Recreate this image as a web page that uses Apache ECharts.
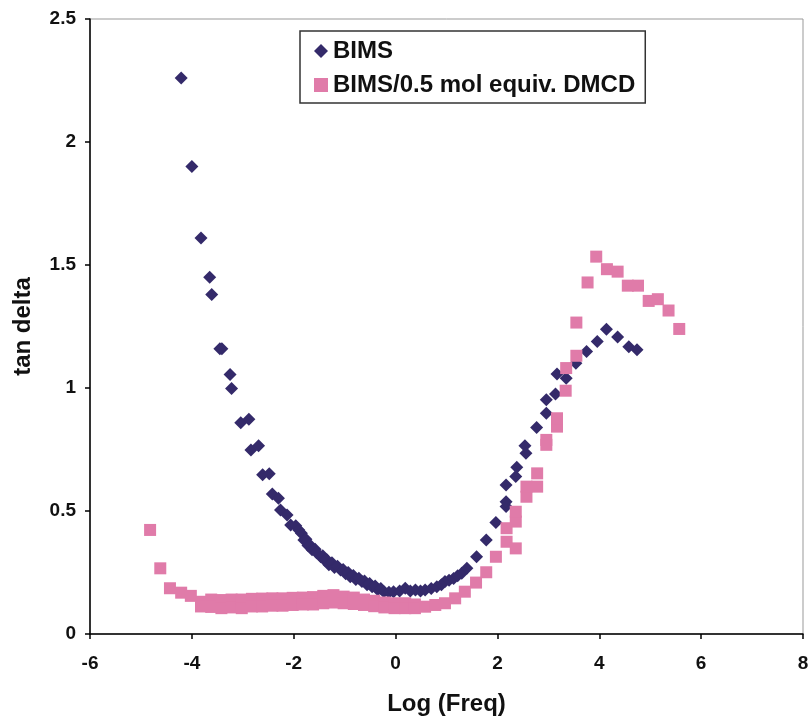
<!DOCTYPE html>
<html>
<head>
<meta charset="utf-8">
<script src="https://cdn.jsdelivr.net/npm/echarts@6/dist/echarts.min.js"></script>
<style>
  html, body { margin: 0; padding: 0; background: #fff; }
  #chart { width: 809px; height: 716px; }
</style>
</head>
<body>
<div id="chart"></div>
<script>
// BIMS: [log freq, tan delta]
const bims = [
  [-4.21, 2.26], [-4.0, 1.90], [-3.82, 1.61], [-3.65, 1.45], [-3.61, 1.38],
  [-3.45, 1.16], [-3.41, 1.16], [-3.25, 1.055], [-3.22, 0.998], [-3.04, 0.859],
  [-2.88, 0.873], [-2.84, 0.748], [-2.69, 0.765], [-2.61, 0.647], [-2.48, 0.651],
  [-2.42, 0.569], [-2.30, 0.552], [-2.26, 0.504], [-2.13, 0.484], [-2.06, 0.443],
  [-1.96, 0.44], [-1.90, 0.423], [-1.85, 0.41], [-1.80, 0.382], [-1.76, 0.385],
  [-1.72, 0.36], [-1.68, 0.362], [-1.64, 0.342], [-1.58, 0.345], [-1.55, 0.33],
  [-1.47, 0.314], [-1.43, 0.318], [-1.39, 0.30], [-1.35, 0.302], [-1.31, 0.281],
  [-1.25, 0.29], [-1.2, 0.27], [-1.14, 0.275], [-1.08, 0.26], [-1.03, 0.262],
  [-0.98, 0.245], [-0.93, 0.25], [-0.89, 0.233], [-0.83, 0.238], [-0.78, 0.222],
  [-0.72, 0.227], [-0.66, 0.213], [-0.61, 0.215], [-0.56, 0.2], [-0.51, 0.205],
  [-0.46, 0.192], [-0.40, 0.195], [-0.35, 0.18], [-0.29, 0.185], [-0.23, 0.172],
  [-0.13, 0.17], [-0.04, 0.172], [0.08, 0.175], [0.19, 0.186], [0.29, 0.175],
  [0.39, 0.179], [0.49, 0.175], [0.58, 0.179], [0.7, 0.185], [0.81, 0.192],
  [0.90, 0.2], [0.97, 0.213], [1.05, 0.218], [1.14, 0.226], [1.22, 0.237],
  [1.30, 0.247], [1.40, 0.267], [1.59, 0.314], [1.78, 0.382], [1.97, 0.453],
  [2.17, 0.518], [2.17, 0.538], [2.17, 0.606], [2.36, 0.640], [2.38, 0.678],
  [2.54, 0.765], [2.56, 0.735], [2.77, 0.839], [2.96, 0.897], [2.96, 0.952],
  [3.14, 0.976], [3.17, 1.057], [3.35, 1.040], [3.54, 1.101], [3.75, 1.148],
  [3.96, 1.189], [4.14, 1.239], [4.36, 1.207], [4.58, 1.168], [4.74, 1.155]
];

// BIMS/0.5 mol equiv. DMCD
const bimsDmcd = [
  [-4.82, 0.423], [-4.62, 0.267], [-4.43, 0.186], [-4.21, 0.168], [-4.02, 0.155],
  [-3.82, 0.131], [-3.82, 0.112], [-3.62, 0.14], [-3.62, 0.11], [-3.42, 0.138],
  [-3.42, 0.105], [-3.22, 0.14], [-3.22, 0.108], [-3.02, 0.14], [-3.02, 0.105],
  [-2.82, 0.143], [-2.82, 0.112], [-2.62, 0.144], [-2.62, 0.112], [-2.42, 0.145],
  [-2.42, 0.115], [-2.22, 0.145], [-2.22, 0.115], [-2.02, 0.147], [-2.02, 0.118],
  [-1.82, 0.148], [-1.82, 0.12], [-1.62, 0.15], [-1.62, 0.12], [-1.42, 0.155],
  [-1.42, 0.125], [-1.22, 0.158], [-1.22, 0.128], [-1.02, 0.152], [-1.02, 0.125],
  [-0.82, 0.148], [-0.82, 0.122], [-0.62, 0.14], [-0.62, 0.118], [-0.42, 0.135],
  [-0.42, 0.113], [-0.22, 0.128], [-0.22, 0.108], [-0.02, 0.125], [-0.02, 0.105],
  [0.19, 0.125], [0.19, 0.105], [0.38, 0.12], [0.38, 0.105], [0.58, 0.111],
  [0.78, 0.118], [0.97, 0.125], [1.17, 0.145], [1.36, 0.172], [1.58, 0.209],
  [1.78, 0.251], [1.97, 0.314], [2.18, 0.375], [2.18, 0.43], [2.36, 0.348],
  [2.36, 0.457], [2.36, 0.497], [2.57, 0.558], [2.57, 0.599], [2.78, 0.599],
  [2.78, 0.653], [2.96, 0.769], [2.96, 0.789], [3.17, 0.843], [3.17, 0.877],
  [3.34, 0.989], [3.35, 1.081], [3.55, 1.131], [3.55, 1.266], [3.77, 1.429],
  [3.94, 1.534], [4.15, 1.483], [4.36, 1.473], [4.56, 1.416], [4.76, 1.416],
  [4.97, 1.354], [5.15, 1.361], [5.36, 1.315], [5.57, 1.24]
];

const seriesNames = ['BIMS', 'BIMS/0.5 mol equiv. DMCD'];
const xTitle = 'Log (Freq)';
const yTitle = 'tan delta';

const font = 'Arial, "Liberation Sans", sans-serif';
const ink = '#111';

const chart = echarts.init(document.getElementById('chart'), null, { renderer: 'canvas' });
chart.setOption({
  backgroundColor: '#fff',
  animation: false,
  grid: {
    left: 90, right: 6, top: 19, bottom: 82,
    outerBoundsMode: 'none',
    containLabel: false,
    show: true, borderColor: '#999', borderWidth: 1, backgroundColor: 'transparent'
  },
  legend: {
    orient: 'vertical',
    left: 300, top: 31,
    padding: [8, 10, 6, 14],
    itemGap: 10,
    itemWidth: 14, itemHeight: 14,
    borderColor: '#333', borderWidth: 1.5,
    backgroundColor: '#fff',
    textStyle: { fontFamily: font, fontWeight: 'bold', fontSize: 24, color: ink, lineHeight: 24 },
    data: [
      { name: seriesNames[0], icon: 'diamond' },
      { name: seriesNames[1], icon: 'rect' }
    ]
  },
  xAxis: {
    type: 'value', min: -6, max: 8, interval: 2,
    name: xTitle, nameLocation: 'middle', nameGap: 58,
    nameTextStyle: { fontFamily: font, fontWeight: 'bold', fontSize: 24, color: ink },
    axisLine: { show: true, onZero: false, lineStyle: { color: '#000', width: 1.5 } },
    axisTick: { show: true, inside: false, length: 5, lineStyle: { color: '#000', width: 1.5 } },
    axisLabel: { fontFamily: font, fontWeight: 'bold', fontSize: 19, color: ink, margin: 20 },
    splitLine: { show: false }
  },
  yAxis: {
    type: 'value', min: 0, max: 2.5, interval: 0.5,
    name: yTitle, nameLocation: 'middle', nameGap: 55, nameRotate: 90,
    nameTextStyle: { fontFamily: font, fontWeight: 'bold', fontSize: 24, color: ink },
    axisLine: { show: true, onZero: false, lineStyle: { color: '#000', width: 1.5 } },
    axisTick: { show: true, inside: false, length: 5, lineStyle: { color: '#000', width: 1.5 } },
    axisLabel: { fontFamily: font, fontWeight: 'bold', fontSize: 19, color: ink, margin: 14 },
    splitLine: { show: false }
  },
  series: [
    {
      name: seriesNames[0], type: 'scatter', data: bims,
      symbol: 'diamond', symbolSize: 13,
      itemStyle: { color: '#342a6a', opacity: 1 }
    },
    {
      name: seriesNames[1], type: 'scatter', data: bimsDmcd,
      symbol: 'rect', symbolSize: 12,
      itemStyle: { color: '#e07ba9', opacity: 1 }
    }
  ]
});
</script>
</body>
</html>
